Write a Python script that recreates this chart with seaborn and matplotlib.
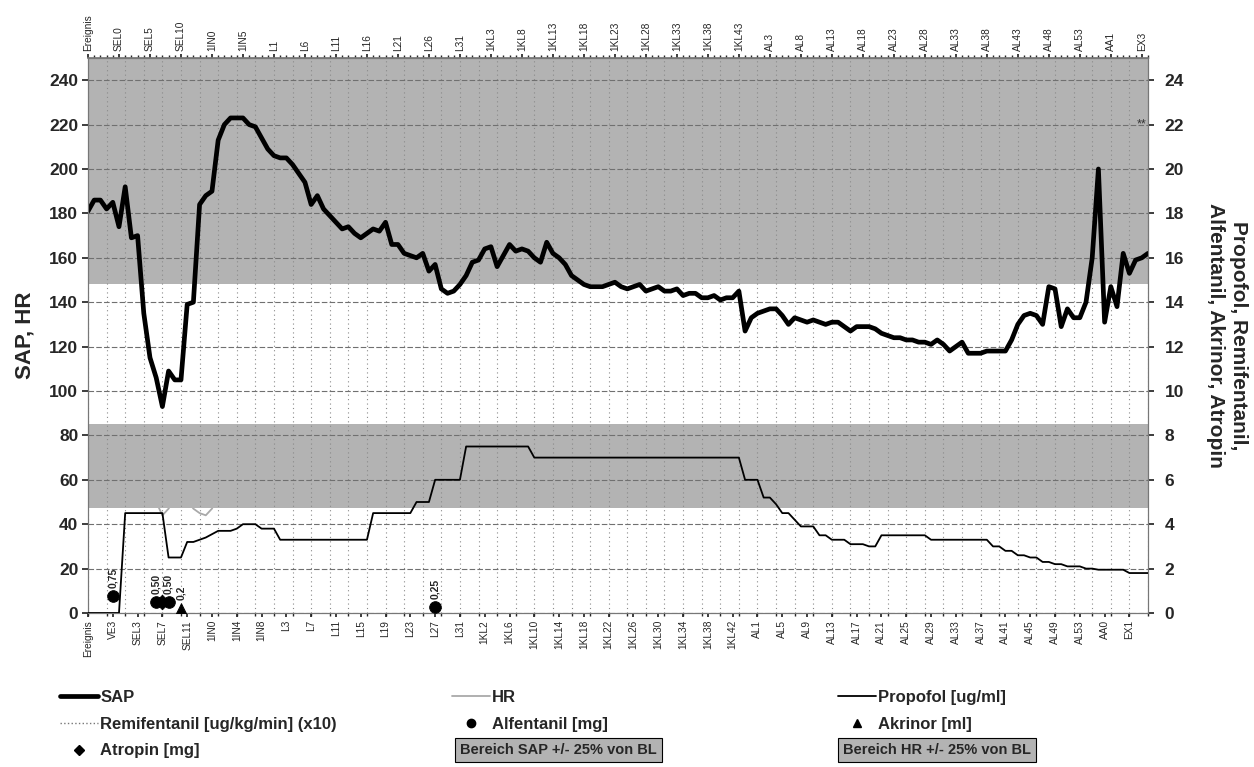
import numpy as np
import pandas as pd
import matplotlib
matplotlib.use("Agg")
import matplotlib.pyplot as plt
import seaborn as sns
from matplotlib.lines import Line2D

# CATEGORY AXIS - phases of the procedure and how many steps each has
phase_names = ['Ereignis', 'VE', 'SEL', '1IN', 'L', '1KL', 'AL', 'AA', 'EX']
phase_steps = [1, 4, 15, 9, 33, 45, 57, 3, 5]

categories = []
for name, n in zip(phase_names, phase_steps):
    if n == 1:
        categories.append(name)
    else:
        categories += [f'{name}{i}' for i in range(n)]

# SERIES (one value per category)
sap = [181, 186, 186, 182, 185, 174, 192, 169, 170, 135,
       115, 106, 93, 109, 105, 105, 139, 140, 184, 188,
       190, 213, 220, 223, 223, 223, 220, 219, 214, 209,
       206, 205, 205, 202, 198, 194, 184, 188, 182, 179,
       176, 173, 174, 171, 169, 171, 173, 172, 176, 166,
       166, 162, 161, 160, 162, 154, 157, 146, 144, 145,
       148, 152, 158, 159, 164, 165, 156, 161, 166, 163,
       164, 163, 160, 158, 167, 162, 160, 157, 152, 150,
       148, 147, 147, 147, 148, 149, 147, 146, 147, 148,
       145, 146, 147, 145, 145, 146, 143, 144, 144, 142,
       142, 143, 141, 142, 142, 145, 127, 133, 135, 136,
       137, 137, 134, 130, 133, 132, 131, 132, 131, 130,
       131, 131, 129, 127, 129, 129, 129, 128, 126, 125,
       124, 124, 123, 123, 122, 122, 121, 123, 121, 118,
       120, 122, 117, 117, 117, 118, 118, 118, 118, 123,
       130, 134, 135, 134, 130, 147, 146, 129, 137, 133,
       133, 140, 160, 200, 131, 147, 138, 162, 153, 159,
       160, 162]

hr = [72, 74, 75, 73, 76, 78, 74, 70, 64, 58,
      54, 50, 44, 47, 52, 56, 51, 47, 45, 44,
      47, 53, 58, 62, 64, 66, 65, 63, 62, 60,
      61, 62, 60, 59, 60, 62, 63, 61, 60, 62,
      64, 63, 62, 60, 61, 63, 64, 66, 65, 64,
      66, 67, 66, 65, 64, 63, 62, 64, 65, 66,
      68, 70, 69, 67, 66, 65, 66, 68, 67, 66,
      65, 64, 66, 67, 68, 66, 65, 64, 63, 64,
      65, 66, 65, 64, 63, 62, 63, 64, 65, 64,
      63, 62, 61, 62, 63, 64, 63, 62, 61, 60,
      61, 62, 63, 62, 61, 64, 66, 65, 64, 63,
      62, 61, 60, 61, 62, 63, 62, 61, 60, 59,
      60, 61, 62, 61, 60, 59, 58, 59, 60, 61,
      60, 59, 58, 57, 58, 59, 60, 59, 58, 57,
      58, 59, 58, 57, 58, 59, 60, 61, 62, 63,
      64, 66, 65, 64, 63, 66, 68, 66, 65, 67,
      69, 70, 72, 75, 70, 68, 67, 68, 69, 70,
      70, 71]

# Propofol [ug/ml], right axis
propofol = [0, 0, 0, 0, 0, 0, 4.5, 4.5, 4.5, 4.5,
            4.5, 4.5, 4.5, 2.5, 2.5, 2.5, 3.2, 3.2, 3.3, 3.4,
            3.55, 3.7, 3.7, 3.7, 3.8, 4.0, 4.0, 4.0, 3.8, 3.8,
            3.8, 3.3, 3.3, 3.3, 3.3, 3.3, 3.3, 3.3, 3.3, 3.3,
            3.3, 3.3, 3.3, 3.3, 3.3, 3.3, 4.5, 4.5, 4.5, 4.5,
            4.5, 4.5, 4.5, 5.0, 5.0, 5.0, 6.0, 6.0, 6.0, 6.0,
            6.0, 7.5, 7.5, 7.5, 7.5, 7.5, 7.5, 7.5, 7.5, 7.5,
            7.5, 7.5, 7.0, 7.0, 7.0, 7.0, 7.0, 7.0, 7.0, 7.0,
            7.0, 7.0, 7.0, 7.0, 7.0, 7.0, 7.0, 7.0, 7.0, 7.0,
            7.0, 7.0, 7.0, 7.0, 7.0, 7.0, 7.0, 7.0, 7.0, 7.0,
            7.0, 7.0, 7.0, 7.0, 7.0, 7.0, 6.0, 6.0, 6.0, 5.2,
            5.2, 4.9, 4.5, 4.5, 4.2, 3.9, 3.9, 3.9, 3.5, 3.5,
            3.3, 3.3, 3.3, 3.1, 3.1, 3.1, 3.0, 3.0, 3.5, 3.5,
            3.5, 3.5, 3.5, 3.5, 3.5, 3.5, 3.3, 3.3, 3.3, 3.3,
            3.3, 3.3, 3.3, 3.3, 3.3, 3.3, 3.0, 3.0, 2.8, 2.8,
            2.6, 2.6, 2.5, 2.5, 2.3, 2.3, 2.2, 2.2, 2.1, 2.1,
            2.1, 2.0, 2.0, 1.95, 1.95, 1.95, 1.95, 1.95, 1.8, 1.8,
            1.8, 1.8]

# bolus events (category, dose)
alfentanil_cat = ['VE3', 'SEL6', 'SEL8', 'L27']
alfentanil_dose = [0.75, 0.50, 0.50, 0.25]
atropin_cat = ['SEL7']
atropin_dose = [0.50]
akrinor_cat = ['SEL10']
akrinor_dose = [0.2]

# target ranges (+/- 25% of baseline)
sap_range = [148, 250]
hr_range = [47.5, 85]

#-------------------------------
sns.set_theme(style='white')
plt.rcParams['font.family'] = ['Liberation Sans', 'DejaVu Sans']

df = pd.DataFrame({'pos': np.arange(len(categories)), 'category': categories,
                   'SAP': sap, 'HR': hr, 'Propofol': propofol})
cat_pos = dict(zip(categories, df['pos']))

band_color = '#b3b3b3'

fig = plt.figure(figsize=(12.54, 7.67), dpi=100)
ax = fig.add_axes([88 / 1254, 154 / 767, 1060 / 1254, 555 / 767])

# bands sit over the HR line (HR only shows where it leaves its range)
ax.axhspan(sap_range[0], sap_range[1], color=band_color, lw=0, zorder=1.6)
ax.axhspan(hr_range[0], hr_range[1], color=band_color, lw=0, zorder=1.6)

sns.lineplot(data=df, x='pos', y='HR', ax=ax, color='#a9a9a9', lw=1.3, zorder=1.5)
sns.lineplot(data=df, x='pos', y='SAP', ax=ax, color='black', lw=3.4, zorder=4)

ax.set_xlim(0, len(categories) - 1)
ax.set_ylim(0, 250)
ax.set_yticks(range(0, 241, 20))
ax.set_xticks(df['pos'][::4], labels=df['category'][::4], rotation=90, fontsize=7.3)
ax.set_xticks(df['pos'][::3], minor=True)
ax.xaxis.remove_overlapping_locs = False
ax.set_axisbelow(False)
ax.grid(axis='y', which='major', color='#707070', ls=(0, (5, 2)), lw=0.8)
ax.grid(axis='x', which='minor', color='#8a8a8a', ls=(0, (1, 3)), lw=0.8)
ax.tick_params(axis='y', labelsize=12.5, length=4, left=True, pad=3)
ax.tick_params(axis='x', which='major', length=3, bottom=True, pad=2)
ax.tick_params(axis='x', which='minor', length=2, bottom=True)
for lab in ax.get_yticklabels():
    lab.set_fontweight('bold')
ax.set_xlabel('')
ax.set_ylabel('SAP, HR', fontsize=16, fontweight='bold', labelpad=10)

for s in ax.spines.values():
    s.set_color('#777777')
    s.set_linewidth(0.8)

# top category axis
sec = ax.secondary_xaxis('top')
sec.set_ticks(df['pos'][::5], labels=df['category'][::5], rotation=90, fontsize=7.3)
sec.set_ticks(df['pos'], minor=True)
sec.tick_params(which='major', length=3, pad=2)
sec.tick_params(which='minor', length=2)
sec.spines['top'].set_color('#777777')

# right axis: drugs
ax2 = ax.twinx()
sns.lineplot(data=df, x='pos', y='Propofol', ax=ax2, color='black', lw=1.3, zorder=3)
sns.scatterplot(x=[cat_pos[c] for c in alfentanil_cat], y=alfentanil_dose, ax=ax2,
                marker='o', s=70, color='black', edgecolor='black', zorder=5)
sns.scatterplot(x=[cat_pos[c] for c in atropin_cat], y=atropin_dose, ax=ax2,
                marker='D', s=55, color='black', edgecolor='black', zorder=5)
sns.scatterplot(x=[cat_pos[c] for c in akrinor_cat], y=akrinor_dose, ax=ax2,
                marker='^', s=70, color='black', edgecolor='black', zorder=5)
for c, d in zip(alfentanil_cat, alfentanil_dose):
    ax2.annotate(f'{d:.2f}'.replace('.', ','), (cat_pos[c], d), xytext=(0, 6),
                 textcoords='offset points', rotation=90, ha='center', va='bottom',
                 fontsize=7.5, fontweight='bold')
for c, d in zip(akrinor_cat, akrinor_dose):
    ax2.annotate(f'{d:.1f}'.replace('.', ','), (cat_pos[c], d), xytext=(0, 6),
                 textcoords='offset points', rotation=90, ha='center', va='bottom',
                 fontsize=7.5, fontweight='bold')
ax2.text(cat_pos['EX3'], 22, '**', ha='center', va='center', fontsize=9, color='#333333')

ax2.set_ylim(0, 25)
ax2.set_yticks(range(0, 25, 2))
ax2.tick_params(axis='y', labelsize=12.5, length=4, right=True, pad=8)
for lab in ax2.get_yticklabels():
    lab.set_fontweight('bold')
ax2.set_xlabel('')
ax2.set_ylabel('Propofol, Remifentanil,\nAlfentanil, Akrinor, Atropin', rotation=270,
               fontsize=15, fontweight='bold', labelpad=46, linespacing=1.25)
for s in ax2.spines.values():
    s.set_color('#777777')
    s.set_linewidth(0.8)

# LEGEND - three columns laid out like the original
lprops = dict(frameon=False, prop={'weight': 'bold', 'size': 12}, handlelength=2.3,
              handletextpad=0.12, labelspacing=0.7, borderpad=0, borderaxespad=0)
top = 1 - 690 / 767
col1 = [Line2D([], [], color='black', lw=3.4),
        Line2D([], [], color='#777777', lw=1, ls=':'),
        Line2D([], [], color='black', marker='D', ls='', ms=5)]
fig.legend(col1, ['SAP', 'Remifentanil [ug/kg/min] (x10)', 'Atropin [mg]'],
           loc='upper left', bbox_to_anchor=(60 / 1254, top), **lprops)
col2 = [Line2D([], [], color='#a9a9a9', lw=1.3),
        Line2D([], [], color='black', marker='o', ls='', ms=6)]
fig.legend(col2, ['HR', 'Alfentanil [mg]'],
           loc='upper left', bbox_to_anchor=(452 / 1254, top), **lprops)
col3 = [Line2D([], [], color='black', lw=1.3),
        Line2D([], [], color='black', marker='^', ls='', ms=6)]
fig.legend(col3, ['Propofol [ug/ml]', 'Akrinor [ml]'],
           loc='upper left', bbox_to_anchor=(838 / 1254, top), **lprops)

box = dict(boxstyle='square,pad=0.35', facecolor=band_color, edgecolor='black', lw=0.8)
fig.text(460 / 1254, 1 - 750 / 767, 'Bereich SAP +/- 25% von BL', fontsize=10.5,
         fontweight='bold', va='center', ha='left', bbox=box)
fig.text(843 / 1254, 1 - 750 / 767, 'Bereich HR +/- 25% von BL', fontsize=10.5,
         fontweight='bold', va='center', ha='left', bbox=box)

fig.savefig('out.png', dpi=100)
